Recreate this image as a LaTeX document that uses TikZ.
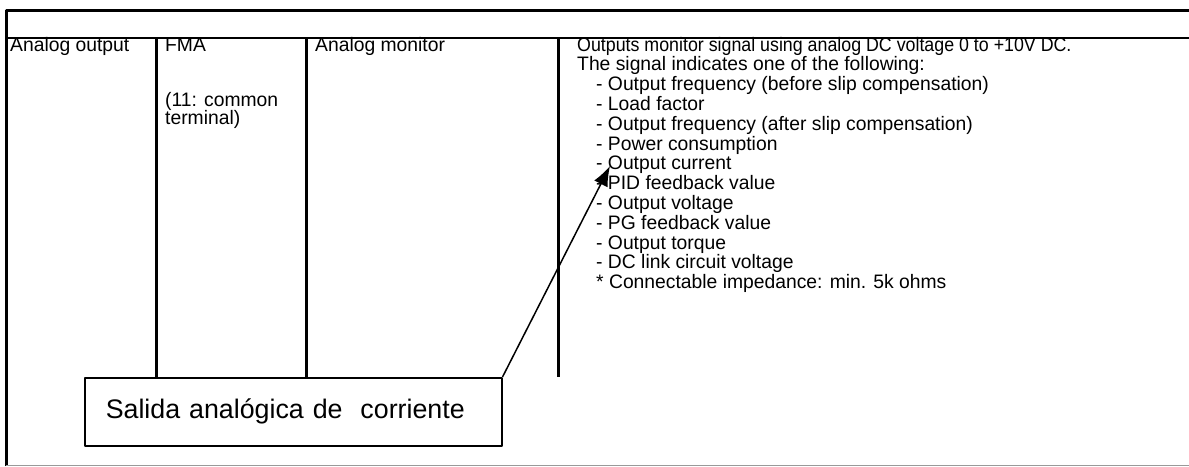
\documentclass[tikz,border=0pt]{standalone}
\usepackage{fontspec}
\setmainfont{Liberation Sans}
\newfontfamily\tabfont[FakeStretch=0.99]{Liberation Sans}
\newfontfamily\tabfontnarrow[FakeStretch=0.913]{Liberation Sans}
\usetikzlibrary{calc,arrows.meta}

\begin{document}
\begin{tikzpicture}
    [line join=bevel,x={(1pt,0pt)},y={(0pt,-1pt)},
     cell/.style={anchor=base west,inner sep=0pt,font=\tabfont\fontsize{19.5}{19.8}\selectfont},
     rule/.style={line width=3pt},
     callout/.style={draw,line width=1.5pt,anchor=north west,inner xsep=21pt,inner ysep=0pt,
       text width=375pt,minimum height=68pt,align=left,font=\fontsize{26.8}{30}\selectfont}]

    \useasboundingbox (0,0) rectangle (1189,466);

    % table frame
    \coordinate (TL) at (   6,  10);
    \coordinate (TR) at (1189,  10);
    \coordinate (HL) at (   6,  38);
    \coordinate (HR) at (1189,  38);
    \coordinate (BL) at (   6, 466);
    \coordinate (BR) at (1189, 466);
    \coordinate (A)  at ( 156,  38);
    \coordinate (B)  at ( 306,  38);
    \coordinate (C)  at ( 558,  38);

    \draw[rule] (BL) -- (TL) -- (TR);
    \draw[line width=2.6pt] (HL) -- (HR);
    \draw[line width=1pt,black!40] ($(BL)+(0,-0.6)$) -- ($(BR)+(0,-0.6)$);

    % callout box
    \node[callout] (note) at (84,377) {Salida analógica de\ \ corriente};

    \draw[rule] (A) -- (A |- note.north);
    \draw[rule] (B) -- (B |- note.north);
    \draw[rule] (C) -- (C |- note.north);

    % cells
    \node[cell] (sig)  at ( 10, 51) {Analog output};
    \node[cell] (term) at (165, 51) {FMA};
    \node[cell] (com1) at (165,106) {(11: common};
    \node[cell] (com2) at (165,124) {terminal)};
    \node[cell] (name) at (315, 51) {Analog monitor};

    \node[cell,font=\tabfontnarrow\fontsize{19.5}{19.8}\selectfont] (desc1) at (577, 51.0)
      {Outputs monitor signal using analog DC voltage 0 to +10V DC.};
    \node[cell] (desc2) at (577, 70.8) {The signal indicates one of the following:};
    \node[cell] (it1)  at (596, 90.6) {- Output frequency (before slip compensation)};
    \node[cell] (it2)  at (596,110.4) {- Load factor};
    \node[cell] (it3)  at (596,130.2) {- Output frequency (after slip compensation)};
    \node[cell] (it4)  at (596,150.0) {- Power consumption};
    \node[cell] (it5)  at (596,169.8) {- Output current};
    \node[cell] (it6)  at (596,189.6) {- PID feedback value};
    \node[cell] (it7)  at (596,209.4) {- Output voltage};
    \node[cell] (it8)  at (596,229.2) {- PG feedback value};
    \node[cell] (it9)  at (596,249.0) {- Output torque};
    \node[cell] (it10) at (596,268.8) {- DC link circuit voltage};
    \node[cell] (it11) at (596,288.6) {* Connectable impedance: min. 5k ohms};

    % pointer
    \coordinate (tip) at (610,166);
    \draw[line width=1.5pt,-{Latex[length=20pt,width=15pt]}] (note.north east) -- (tip);
  \end{tikzpicture}
\end{document}
